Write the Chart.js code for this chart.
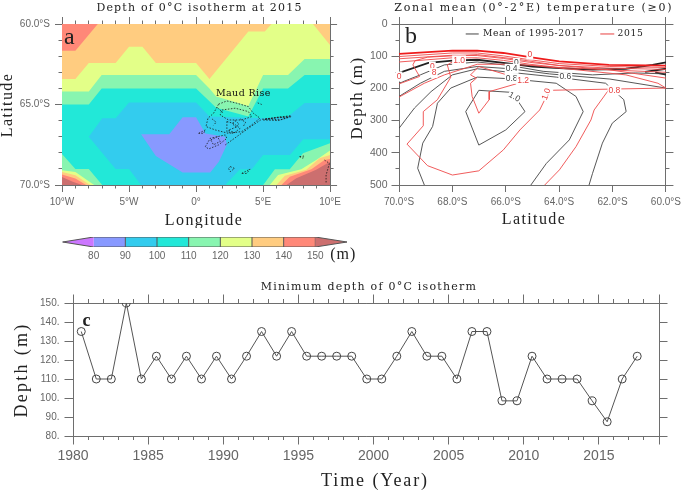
<!DOCTYPE html>
<html>
<head>
<meta charset="utf-8">
<title>Depth of 0°C isotherm</title>
<script src="https://cdn.jsdelivr.net/npm/chart.js@4"></script>
<style>
html, body { margin: 0; padding: 0; background: #fff; }
canvas { position: absolute; }
</style>
</head>
<body>
<div style="position:absolute;left:0;top:0;width:345px;height:228px"><canvas id="mapChart"></canvas></div>
<div style="position:absolute;left:345px;top:0;width:340px;height:228px"><canvas id="sectionChart"></canvas></div>
<div style="position:absolute;left:0;top:228px;width:370px;height:47px"><canvas id="barChart"></canvas></div>
<div style="position:absolute;left:0;top:275px;width:685px;height:216px"><canvas id="seriesChart"></canvas></div>
<script>
// panel c: minimum depth per year
const years = [1980,1981,1982,1983,1984,1985,1986,1987,1988,1989,1990,1991,1992,1993,1994,1995,1996,1997,1998,1999,
    2000,2001,2002,2003,2004,2005,2006,2007,2008,2009,2010,2011,2012,2013,2014,2015,2016,2017];
const minDepth = [135,110,110,150,110,122,110,122,110,122,110,122,135,122,135,122,122,122,122,110,
    110,122,135,122,122,110,135,135,98.5,98.5,122,110,110,110,98.5,87.5,110,122];

// colour bar levels
const levels = [80,90,100,110,120,130,140,150];
const bandColors = ['#cc77ff','#8899ff','#33ccee','#22e8d8','#88f5b0','#e3ff88','#ffcc80','#ff8878','#cc6f6f'];

// panel a: filled bands [lon, lat]
const bandOrange = [[-10,-60],[10,-60],[10,-70],[-10,-70]];
const bandRedTop = [[-10,-60],[-7.33,-60],[-9,-61.66],[-10,-61.66]];
const bandYellow = [[-10,-63.42],[-9,-63.42],[-8,-62.43],[-6,-62.43],[-5,-61.41],[-4,-61.41],[-3,-62.43],[0,-62.43],[1,-63.42],
    [3.9,-60.46],[5.13,-60.46],[5.63,-60],[8.72,-60],[10,-61.31],[10,-70],[-10,-70]];
const bandGreen = [[-10,-64.19],[-8,-64.19],[-7.04,-63.17],[0,-63.17],[1,-64],[1.5,-64.5],[3.9,-65.1],[5,-63.17],[6.86,-63.17],
    [8.1,-62.18],[10,-62.18],[10,-70],[-10,-70]];
const bandTeal = [[-10,-65],[-8,-65],[-7.04,-64],[0,-64],[1,-64.8],[1.5,-65.2],[3.9,-65.75],[5,-64],[6.86,-64],[8.1,-63.17],
    [10,-63.17],[10,-70],[-10,-70]];
const bandBlue = [[-8,-67],[-7,-65.85],[-6,-65.85],[-5,-64.88],[0,-64.88],[1,-65.75],[5.13,-65.85],[6.86,-65.75],[8.1,-64.9],
    [10,-64.9],[10,-67.16],[8,-67.16],[7,-68.13],[5,-68.13],[4.15,-69.02],[3.28,-69.02],[2.17,-70],[-4.1,-70],[-5,-69],[-6,-69]];
const bandPurple = [[-4.1,-66.85],[-2,-66.85],[-1,-65.79],[0,-65.79],[0.7,-66.8],[2.17,-67],[2.3,-67.5],[1.7,-68.55],[1.06,-69.23],
    [-1,-69.23],[-3,-68.2]];
const cornerLeftGreen = [[-10,-68.07],[-9,-69],[-8,-69],[-7,-70],[-10,-70]];
const cornerLeftYellow = [[-10,-69.08],[-9,-69.2],[-7.6,-70],[-10,-70]];
const cornerLeftOrange = [[-10,-69.2],[-9,-69.4],[-7.9,-70],[-10,-70]];
const cornerLeftRed = [[-10,-69.35],[-9,-69.6],[-8.2,-70],[-10,-70]];
const cornerLeftDark = [[-10,-69.5],[-9.2,-69.8],[-8.5,-70],[-10,-70]];
const cornerRightGreen = [[5.01,-70],[5.88,-69.02],[6.99,-69.02],[7.98,-68.03],[10,-67.4],[10,-70]];
const cornerRightYellow = [[5.5,-70],[6.12,-69.38],[7.85,-69.02],[8.96,-68.44],[10,-67.86],[10,-70]];
const cornerRightOrange = [[6,-70],[6.62,-69.42],[8.22,-69.06],[9.21,-68.34],[10,-68.13],[10,-70]];
const cornerRightRed = [[6.37,-70],[6.99,-69.48],[8.6,-69.02],[9.58,-68.44],[10,-68.38],[10,-70]];
const cornerRightDark = [[6.74,-70],[7.48,-69.58],[8.96,-69.06],[10,-68.55],[10,-70]];

// panel a: Maud Rise bathymetry, dashed
const bathyLines = [
    [[1.68,-64.98],[2.3,-64.78],[3.04,-64.92],[3.9,-65.13],[4.27,-65.54],[4.77,-65.85],[4.15,-66.27],[3.41,-66.68],[2.42,-66.79],[1.43,-66.58],[0.74,-66.37],[0.89,-65.85],[1.31,-65.54],[1.68,-64.98]],
    [[1.93,-65.34],[2.92,-65.23],[3.9,-65.44],[4.15,-65.75],[3.41,-65.96],[2.42,-65.96],[1.8,-65.65],[1.93,-65.34]],
    [[2.3,-66.06],[2.79,-66.17],[3.29,-66.48],[2.79,-66.79],[2.3,-66.68],[2.3,-66.06]],
    [[2.18,-67.51],[3.9,-66.48],[4.89,-65.92],[7.11,-65.69]],
    [[5.01,-65.96],[6.13,-66],[7.11,-65.75],[6.13,-65.79],[5.01,-65.96]],
    [[5.2,-65.9],[6.3,-65.95],[6.9,-65.78],[5.9,-65.84],[5.2,-65.9]],
    [[0.69,-67.62],[1.06,-67.1],[2.18,-66.89],[2.3,-67.1],[1.68,-67.51],[0.94,-67.76],[0.69,-67.62]],
    [[1.1,-67.2],[1.6,-67],[1.8,-67.3],[1.3,-67.5],[1.1,-67.2]],
    [[0.2,-66.79],[0.69,-66.58],[0.57,-66.79],[0.2,-66.79]],
    [[2.9,-66],[3.2,-66.2],[3,-66.4],[2.7,-66.2],[2.9,-66]],
    [[3.3,-65.9],[3.7,-66.1],[3.5,-66.4]],
    [[1.2,-65.9],[1.5,-66.1],[1.3,-66.3]],
    [[1.6,-65.2],[2,-65.5]],
    [[3,-66.4],[2.4,-66.6],[2.9,-66.75]],
    [[2.55,-68.86],[2.87,-68.97],[2.55,-69.17],[2.42,-68.97],[2.55,-68.86]],
    [[3.41,-69.28],[4.03,-69.01],[3.78,-69.28],[3.41,-69.28]],
    [[7.73,-68.24],[8.05,-68.2],[7.98,-68.34],[7.73,-68.24]],
    [[9.58,-68.45],[9.95,-68.66],[9.7,-69.38],[9.7,-69.9]],
    [[4.6,-64.9],[4.9,-65]]
];

// panel b: contours [lat, depth]
const meanThick = [[-70,152],[-68.9,121],[-68,114],[-67.07,111],[-66.09,121],[-65,132],[-64,137],[-62.75,142],[-61.5,139],[-60.5,127],[-60,119]];
const meanThickEnds = [[[-60.78,149],[-60,139]],[[-60.4,150],[-60,157]]];
const meanLines = [
    [[-70,184],[-69.2,158],[-68.3,127],[-67.07,118],[-65.84,129],[-64.6,147],[-62.75,158],[-61.15,152],[-60,155]],
    [[-70,225],[-69.2,184],[-68.3,147],[-67.07,132],[-65.84,139],[-64.36,155],[-62.1,171],[-60,199]],
    [[-70,324],[-69.42,261],[-68.8,210],[-68,158],[-67.07,139],[-65.84,150],[-64.1,165],[-62.26,184],[-61.58,235],[-61.49,272],[-62.01,308],[-62.38,370],[-62.75,464],[-62.88,500]],
    [[-69.05,500],[-69.3,448],[-69.11,370],[-68.74,318],[-68.56,246],[-68.06,199],[-67.07,165],[-65.84,170],[-64.11,184],[-63.37,225],[-63.1,272],[-63.62,360],[-64.48,433],[-65.06,500]],
    [[-67.01,206],[-65.84,212],[-65.53,241],[-65.28,272],[-66,329],[-67.01,376],[-67.5,272],[-67.01,206]]
];
const yearThick = [[-70,93],[-68,83],[-67.07,83],[-66.09,90],[-65.1,103],[-64,116],[-62.14,127],[-60,129]];
const yearLines = [
    [[-70,101],[-68,90],[-67.07,90],[-66.09,99],[-65.1,111],[-64,123],[-62.1,132],[-60,135]],
    [[-70,108],[-68,97],[-67.07,98],[-66.09,107],[-65.1,119],[-64,129],[-62.1,137],[-60,141]],
    [[-70,118],[-68,105],[-67.07,105],[-66.09,113],[-65.1,125],[-64,135],[-62,143],[-60,150]],
    [[-70,186],[-69.23,163],[-69.48,127],[-69.4,114],[-68.93,103],[-67.07,95],[-65.6,109],[-64,129],[-62.14,142],[-60,168]],
    [[-70,227],[-69.05,184],[-68.3,158],[-67.07,125],[-66,125],[-65.1,128],[-63.37,142],[-61.5,158],[-60.3,184],[-60,199]],
    [[-60,199],[-61.95,202],[-64.42,206],[-64.54,235],[-64.73,267],[-65.47,329],[-66.09,391],[-67.01,456],[-68,469],[-68.93,440],[-69.7,373],[-69.09,316],[-69.09,272],[-68.56,235],[-68.06,165],[-68.19,127],[-67.9,113]],
    [[-65.28,178],[-66.62,210],[-66.62,235],[-67.01,277],[-67.26,225],[-67.32,184],[-67.1,168],[-67.32,158],[-67.01,132],[-65.35,173]],
    [[-64.54,500],[-63.99,453],[-63.37,381],[-62.81,298],[-62.69,267],[-62.14,204]]
];

const axisColor = '#6e6e6e';
const labelColor = '#666';
const sansFont = '"Liberation Sans", sans-serif';
const serifFont = '"DejaVu Serif", serif';
const timesFont = '"Liberation Serif", serif';
const toPts = arr => arr.map(p => ({ x: p[0], y: p[1] }));

// draws text and small marks; px items use canvas pixels, the rest data coordinates
const notesPlugin = {
    id: 'notes',
    afterDatasetsDraw(chart, args, opts) {
        const ctx = chart.ctx;
        (opts.items || []).forEach(n => {
            const px = n.px ? n.x : chart.scales.x.getPixelForValue(n.x);
            const py = n.px ? n.y : chart.scales.y.getPixelForValue(n.y);
            ctx.save();
            ctx.translate(px, py);
            if (n.rot) ctx.rotate(n.rot);
            if (n.dash) {
                ctx.strokeStyle = n.color;
                ctx.lineWidth = 1;
                ctx.beginPath();
                ctx.moveTo(0, 0);
                ctx.lineTo(n.dash, 0);
                ctx.stroke();
            } else {
                ctx.font = n.font;
                ctx.textAlign = 'center';
                ctx.textBaseline = 'middle';
                ctx.letterSpacing = (n.spacing || 0) + 'px';
                if (n.bg) {
                    const w = ctx.measureText(n.text).width + 2;
                    ctx.fillStyle = n.bg;
                    ctx.fillRect(-w / 2, -5, w, 10);
                }
                ctx.fillStyle = n.color;
                ctx.fillText(n.text, 0, 0);
            }
            ctx.restore();
        });
    }
};

// one axis edge; it takes no room unless a size is given
function edgeAxis(position, min, max, step, len, size, extra) {
    const horizontal = position === 'top' || position === 'bottom';
    return Object.assign({
        type: 'linear',
        position: position,
        min: min,
        max: max,
        grid: { drawOnChartArea: false, tickLength: len, tickColor: axisColor, tickWidth: 1 },
        border: { display: true, color: axisColor, width: 1 },
        ticks: { display: false, stepSize: step, autoSkip: false, maxRotation: 0, minRotation: 0 },
        afterFit: sc => { if (horizontal) sc.height = size; else sc.width = size; }
    }, extra || {});
}

function mainAxis(position, min, max, step, len, size, cb, pad, fontSize) {
    return edgeAxis(position, min, max, step, len, size, {
        ticks: { display: true, stepSize: step, autoSkip: false, maxRotation: 0, minRotation: 0,
            padding: pad, color: labelColor, font: { family: sansFont, size: fontSize }, callback: cb }
    });
}

function baseOptions(padding, scales, notes) {
    return {
        responsive: true,
        maintainAspectRatio: false,
        animation: false,
        events: [],
        layout: { padding: padding },
        scales: scales,
        plugins: {
            legend: { display: false },
            tooltip: { enabled: false },
            notes: { items: notes }
        }
    };
}

function shape(points, color) {
    return { data: toPts(points), showLine: true, fill: 'shape', backgroundColor: color, borderWidth: 0, pointRadius: 0, tension: 0 };
}

function contour(points, color, width) {
    return { data: toPts(points), showLine: true, fill: false, borderColor: color, borderWidth: width, pointRadius: 0, tension: 0 };
}

// panel a
const painted = [
    shape(bandOrange, bandColors[6]), shape(bandRedTop, bandColors[7]), shape(bandYellow, bandColors[5]),
    shape(bandGreen, bandColors[4]), shape(bandTeal, bandColors[3]), shape(bandBlue, bandColors[2]), shape(bandPurple, bandColors[1]),
    shape(cornerLeftGreen, bandColors[4]), shape(cornerLeftYellow, bandColors[5]), shape(cornerLeftOrange, bandColors[6]),
    shape(cornerLeftRed, bandColors[7]), shape(cornerLeftDark, bandColors[8]),
    shape(cornerRightGreen, bandColors[4]), shape(cornerRightYellow, bandColors[5]), shape(cornerRightOrange, bandColors[6]),
    shape(cornerRightRed, bandColors[7]), shape(cornerRightDark, bandColors[8])
];
bathyLines.forEach(l => {
    const d = contour(l, '#1a1a1a', 0.8);
    d.borderDash = [1.5, 1.5];
    painted.push(d);
});

const titleFont = '11px ' + serifFont;
const nameFont = '16px ' + timesFont;

new Chart(document.getElementById('mapChart'), {
    type: 'scatter',
    data: { datasets: painted.reverse() },
    options: baseOptions({ top: 24, right: 13, left: 0, bottom: 0 }, {
        xm: edgeAxis('bottom', -10, 10, 1, 3.5, 0, { weight: -5 }),
        x: mainAxis('bottom', -10, 10, 5, 7, 43, v => v === 0 ? '0°' : Math.abs(v) + (v < 0 ? '°W' : '°E'), 4, 10),
        xt: edgeAxis('top', -10, 10, 5, 7, 0, { weight: -5 }),
        xtm: edgeAxis('top', -10, 10, 1, 3.5, 0, { weight: -6 }),
        ym: edgeAxis('left', -70, -60, 1, 3.5, 0, { weight: -5 }),
        y: mainAxis('left', -70, -60, 5, 7, 62, v => Math.abs(v).toFixed(1) + '°S', 5, 10),
        yr: edgeAxis('right', -70, -60, 5, 7, 0, { weight: -5 }),
        yrm: edgeAxis('right', -70, -60, 1, 3.5, 0, { weight: -6 })
    }, [
        { px: true, x: 199.5, y: 8, text: 'Depth of 0°C isotherm at 2015', font: titleFont, color: '#222', spacing: 1.2 },
        { px: true, x: 204, y: 221, text: 'Longitude', font: nameFont, color: '#222', spacing: 1.4 },
        { px: true, x: 8, y: 105, text: 'Latitude', font: nameFont, color: '#222', spacing: 1.4, rot: -Math.PI / 2 },
        { x: -9.45, y: -60.85, text: 'a', font: '24px ' + timesFont, color: '#222' },
        { x: 3.53, y: -64.34, text: 'Maud Rise', font: '9.5px ' + serifFont, color: '#111', spacing: 0.4 }
    ]),
    plugins: [notesPlugin]
});

// panel b
const sectionSets = [];
yearLines.forEach(l => sectionSets.push(contour(l, '#ee4a4a', 0.9)));
sectionSets.push(contour(yearThick, '#ee1c1c', 1.8));
meanLines.forEach(l => sectionSets.push(contour(l, '#444', 0.9)));
meanThickEnds.forEach(l => sectionSets.push(contour(l, '#222', 1.8)));
sectionSets.push(contour(meanThick, '#222', 1.8));

const black = '#444';
const red = '#e84040';
const smallFont = '8.5px ' + sansFont;
new Chart(document.getElementById('sectionChart'), {
    type: 'scatter',
    data: { datasets: sectionSets },
    options: baseOptions({ top: 24, right: 16, left: 0, bottom: 0 }, {
        x: mainAxis('bottom', -70, -60, 2, 7, 43, v => Math.abs(v).toFixed(1) + '°S', 4, 10),
        xt: edgeAxis('top', -70, -60, 2, 7, 0, { weight: -5 }),
        ym: edgeAxis('left', 0, 500, 50, 3.5, 0, { weight: -5, reverse: true }),
        y: Object.assign(mainAxis('left', 0, 500, 100, 7.5, 54, v => v, 4, 10.5), { reverse: true }),
        yr: edgeAxis('right', 0, 500, 100, 7.5, 0, { weight: -5, reverse: true }),
        yrm: edgeAxis('right', 0, 500, 50, 3.5, 0, { weight: -6, reverse: true })
    }, [
        { px: true, x: 188.8, y: 8, text: 'Zonal mean (0°-2°E) temperature (≥0)', font: titleFont, color: '#222', spacing: 1.75 },
        { px: true, x: 189, y: 220, text: 'Latitude', font: nameFont, color: '#222', spacing: 1.4 },
        { px: true, x: 12.5, y: 98, text: 'Depth (m)', font: '17px ' + timesFont, color: '#222', spacing: 1.4, rot: -Math.PI / 2 },
        { x: -69.55, y: 38, text: 'b', font: '24px ' + timesFont, color: '#222' },
        { x: -67.5, y: 31, dash: 13, color: black },
        { x: -64.96, y: 31, text: 'Mean of 1995-2017', font: '9.2px ' + serifFont, color: '#222', spacing: 0.6 },
        { x: -62.46, y: 31, dash: 14, color: red },
        { x: -61.33, y: 31, text: '2015', font: '9.2px ' + serifFont, color: '#222', spacing: 0.6 },
        { x: -65.1, y: 95, text: '0', font: smallFont, color: red, bg: '#fff' },
        { x: -65.6, y: 121, text: '0', font: smallFont, color: black, bg: '#fff' },
        { x: -65.78, y: 139, text: '0.4', font: smallFont, color: black, bg: '#fff' },
        { x: -63.77, y: 165, text: '0.6', font: smallFont, color: black, bg: '#fff' },
        { x: -65.78, y: 170, text: '0.8', font: smallFont, color: black, bg: '#fff' },
        { x: -65.68, y: 227, text: '1.0', font: smallFont, color: black, bg: '#fff', rot: 0.5 },
        { x: -67.75, y: 113, text: '1.0', font: smallFont, color: red, bg: '#fff' },
        { x: -68.75, y: 132, text: '0', font: smallFont, color: red, bg: '#fff' },
        { x: -68.68, y: 152, text: '8', font: smallFont, color: red, bg: '#fff' },
        { x: -65.35, y: 176, text: '1.2', font: smallFont, color: red, bg: '#fff' },
        { x: -64.48, y: 218, text: '1.0', font: smallFont, color: red, bg: '#fff', rot: -1.2 },
        { x: -61.93, y: 206, text: '0.8', font: smallFont, color: red, bg: '#fff' },
        { x: -70, y: 163, text: '0', font: smallFont, color: red, bg: '#fff' }
    ]),
    plugins: [notesPlugin]
});

// colour bar
const barSets = [
    Object.assign(shape([[levels[0], 0], [70.2, 0.5], [levels[0], 1]], bandColors[0]), { borderWidth: 1, borderColor: '#555' }),
    Object.assign(shape([[levels[7], 0], [160, 0.5], [levels[7], 1]], bandColors[8]), { borderWidth: 1, borderColor: '#555' })
];
levels.slice(0, 7).forEach((lo, i) => {
    barSets.push(Object.assign(shape([[lo, 0], [levels[i + 1], 0], [levels[i + 1], 1], [lo, 1]], bandColors[i + 1]), { borderWidth: 1, borderColor: '#555' }));
});
new Chart(document.getElementById('barChart'), {
    type: 'scatter',
    data: { datasets: barSets },
    options: baseOptions({ top: 9, right: 23, left: 62, bottom: 0 }, {
        x: {
            type: 'linear', min: 70, max: 160,
            grid: { display: false, drawTicks: false }, border: { display: false },
            ticks: { stepSize: 10, autoSkip: false, maxRotation: 0, padding: 3, color: labelColor,
                font: { family: sansFont, size: 10 }, callback: v => levels.includes(v) ? v : '' },
            afterFit: sc => { sc.height = 28; }
        },
        y: { type: 'linear', min: 0, max: 1, display: false }
    }, [
        { x: 158.8, y: -0.75, text: '(m)', font: '16px ' + timesFont, color: '#222', spacing: 1 }
    ]),
    plugins: [notesPlugin]
});

// panel c
new Chart(document.getElementById('seriesChart'), {
    type: 'scatter',
    data: {
        datasets: [{
            data: years.map((yr, i) => ({ x: yr + 0.55, y: minDepth[i] })),
            showLine: true,
            borderColor: '#555',
            borderWidth: 1,
            tension: 0,
            pointRadius: 4,
            pointBorderWidth: 1,
            pointBorderColor: '#444',
            pointBackgroundColor: 'rgba(0,0,0,0)'
        }]
    },
    options: baseOptions({ top: 28, right: 26, left: 0, bottom: 0 }, {
        xm: edgeAxis('bottom', 1980, 2019, 1, 4, 0, { weight: -5 }),
        x: mainAxis('bottom', 1980, 2019, 5, 8.5, 55, v => v % 5 === 0 ? v : '', 3, 14),
        xt: edgeAxis('top', 1980, 2019, 5, 8.5, 0, { weight: -5 }),
        xtm: edgeAxis('top', 1980, 2019, 1, 4, 0, { weight: -6 }),
        y: mainAxis('left', 80, 150, 10, 8.5, 73, v => v + '.', 5, 10),
        yr: edgeAxis('right', 80, 150, 10, 8.5, 0, { weight: -5 })
    }, [
        { px: true, x: 369, y: 12, text: 'Minimum depth of 0°C isotherm', font: titleFont, color: '#222', spacing: 1.24 },
        { px: true, x: 375, y: 206.5, text: 'Time (Year)', font: '18px ' + timesFont, color: '#222', spacing: 1.9 },
        { px: true, x: 22, y: 95, text: 'Depth (m)', font: '18px ' + timesFont, color: '#222', spacing: 2.3, rot: -Math.PI / 2 },
        { x: 1980.9, y: 140.5, text: 'c', font: 'bold 18px ' + timesFont, color: '#222' }
    ]),
    plugins: [notesPlugin]
});
</script>
</body>
</html>
